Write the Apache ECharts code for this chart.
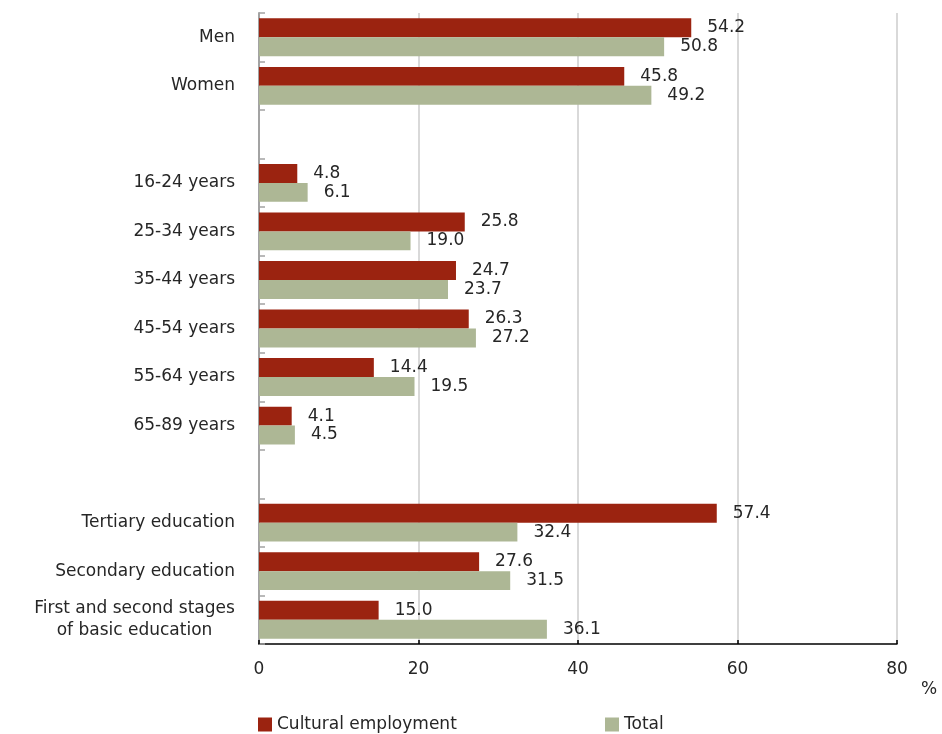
<!DOCTYPE html>
<html>
<head>
<meta charset="utf-8">
<script src="https://cdn.jsdelivr.net/npm/echarts@6/dist/echarts.min.js"></script>
<style>
  html, body { margin: 0; padding: 0; background: #fff; }
  #chart { width: 942px; height: 734px; }
</style>
</head>
<body>
<div id="chart"></div>
<script>
// Groups: sex, age, education (empty strings are spacer rows)
const categories = [
  'Men', 'Women', '',
  '16-24 years', '25-34 years', '35-44 years', '45-54 years', '55-64 years', '65-89 years', '',
  'Tertiary education', 'Secondary education', 'First and second stages\nof basic education'
];
const culturalEmployment = [54.2, 45.8, null, 4.8, 25.8, 24.7, 26.3, 14.4, 4.1, null, 57.4, 27.6, 15.0];
const totalEmployment    = [50.8, 49.2, null, 6.1, 19.0, 23.7, 27.2, 19.5, 4.5, null, 32.4, 31.5, 36.1];
const xTicks = [0, 20, 40, 60, 80];

const FONT = 'DejaVu Sans';
const FONT_SIZE = 17;
const TEXT = '#262626';
const RED = '#9B2310';
const GREEN = '#ADB795';

const toData = arr => arr.map(v => (v === null ? '-' : v));

// width of the widest line of a multi-line label, so its lines can be centred
const measureCtx = document.createElement('canvas').getContext('2d');
measureCtx.font = FONT_SIZE + 'px "' + FONT + '"';
const blockWidth = s => Math.ceil(Math.max(...s.split('\n').map(l => measureCtx.measureText(l).width)));
const multiLineWidth = Math.max(...categories.filter(c => c.indexOf('\n') >= 0).map(blockWidth));

const labelCfg = {
  show: true,
  position: 'right',
  distance: 16,
  color: TEXT,
  fontFamily: FONT,
  fontSize: FONT_SIZE,
  formatter: p => (typeof p.value === 'number' ? p.value.toFixed(1) : '')
};

const legendText = { fontSize: FONT_SIZE, color: TEXT, fontFamily: FONT };

const chart = echarts.init(document.getElementById('chart'), null, { renderer: 'canvas' });
chart.setOption({
  animation: false,
  textStyle: { fontFamily: FONT },
  grid: { left: 259, right: 45, top: 13, bottom: 90, containLabel: false },
  xAxis: {
    type: 'value',
    min: xTicks[0],
    max: xTicks[xTicks.length - 1],
    interval: 20,
    axisLine: { show: true, lineStyle: { color: '#000', width: 1.5 } },
    axisTick: { show: true, inside: true, length: 4, lineStyle: { color: '#000', width: 1.5 } },
    axisLabel: { color: TEXT, fontSize: FONT_SIZE, fontFamily: FONT, margin: 17 },
    splitLine: { show: true, lineStyle: { color: '#d9d9d9', width: 2 } }
  },
  yAxis: {
    type: 'category',
    inverse: true,
    data: categories,
    axisLine: { show: true, lineStyle: { color: '#a3a3a3', width: 2 } },
    axisTick: { show: true, inside: true, length: 6, lineStyle: { color: '#a3a3a3', width: 1.5 } },
    axisLabel: {
      color: TEXT,
      fontSize: FONT_SIZE,
      fontFamily: FONT,
      margin: 24,
      lineHeight: 22,
      // multi-line labels: each line centred within the block
      formatter: v => (v.indexOf('\n') < 0 ? v : v.split('\n').map(s => '{c|' + s + '}').join('\n')),
      rich: {
        c: {
          width: multiLineWidth,
          align: 'center',
          fontSize: FONT_SIZE,
          fontFamily: FONT,
          color: TEXT,
          lineHeight: 22
        }
      }
    }
  },
  legend: [
    {
      data: ['Cultural employment'],
      left: 258, top: 716, padding: 0,
      itemWidth: 14, itemHeight: 14, itemGap: 5,
      textStyle: legendText,
      icon: 'rect'
    },
    {
      data: ['Total'],
      left: 605, top: 716, padding: 0,
      itemWidth: 14, itemHeight: 14, itemGap: 5,
      textStyle: legendText,
      icon: 'rect'
    }
  ],
  graphic: [
    {
      type: 'text',
      left: 921, top: 681,
      style: { text: '%', fontSize: FONT_SIZE, fontFamily: FONT, fill: TEXT }
    }
  ],
  series: [
    {
      name: 'Cultural employment',
      type: 'bar',
      data: toData(culturalEmployment),
      itemStyle: { color: RED },
      barGap: '0%',
      barCategoryGap: '22%',
      label: labelCfg
    },
    {
      name: 'Total',
      type: 'bar',
      data: toData(totalEmployment),
      itemStyle: { color: GREEN },
      barGap: '0%',
      barCategoryGap: '22%',
      label: labelCfg
    }
  ]
});
</script>
</body>
</html>
